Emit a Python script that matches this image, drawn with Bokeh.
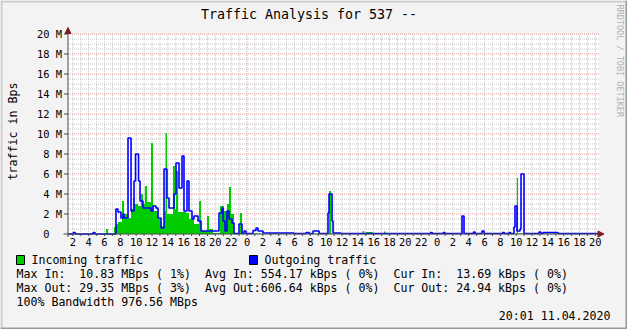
import math
from bokeh.plotting import figure
from bokeh.models import Range1d, Label, BoxAnnotation, Arrow, NormalHead
from bokeh.core.properties import value
from bokeh.embed import file_html
from bokeh.resources import INLINE

# ---------------- data ----------------
# time: hours since midnight of the first day shown; traffic in MBps
in_t = [1.39, 6.20, 6.45, 7.20, 7.45, 7.70, 8.21, 8.46, 8.97, 9.35,
        9.60, 9.73, 10.23, 10.61, 10.86, 11.10, 11.37, 11.87, 12.13, 12.76,
        13.14, 13.52, 13.70, 13.89, 14.65, 14.90, 15.03, 15.30, 16.29, 16.67,
        17.30, 17.94, 18.19, 18.95, 19.20, 19.70, 20.59, 21.09, 21.47, 21.73,
        21.98, 22.36, 23.11, 23.37, 34.36, 34.62, 38.60, 38.80, 39.00, 39.90,
        41.30, 41.50, 58.08, 58.23, 62.65, 62.90]
in_v = [0.0, 0.5, 0.0, 0.7, 1.0, 1.2, 3.3, 2.0, 1.6, 2.5,
        3.6, 3.0, 2.8, 4.0, 3.0, 4.8, 3.2, 9.1, 2.3, 1.5,
        0.8, 2.3, 10.1, 2.0, 6.8, 2.5, 6.3, 2.2, 2.1, 1.5,
        1.0, 3.3, 0.3, 1.8, 0.5, 0.1, 2.8, 2.3, 3.0, 4.7,
        2.0, 0.05, 2.1, 0.05, 4.3, 0.05, 0.3, 0.05, 0.2, 0.05,
        0.25, 0.05, 5.6, 0.05, 0.2, 0.05]

out_t = [1.39, 2.05, 2.30, 4.55, 4.80, 7.45, 7.70, 8.08, 8.34, 8.46,
         8.97, 9.35, 9.73, 9.92, 10.30, 10.49, 10.86, 11.87, 12.13, 12.50,
         12.76, 13.14, 13.52, 13.89, 14.15, 14.78, 15.03, 15.41, 15.79, 16.04,
         16.42, 16.67, 17.05, 17.30, 17.81, 18.19, 20.46, 20.85, 20.97, 21.22,
         21.47, 21.73, 22.11, 22.36, 22.99, 23.37, 23.62, 23.87, 24.76, 25.14,
         25.39, 26.02, 29.94, 31.46, 31.84, 32.34, 33.10, 34.23, 34.36, 34.74,
         34.87, 35.87, 47.20, 47.40, 48.80, 49.00, 51.16, 51.41, 52.60, 52.80,
         53.68, 53.94, 56.30, 56.50, 57.10, 57.30, 57.72, 57.85, 58.10, 58.49,
         58.61, 58.99, 60.88, 61.13, 61.39, 63.28]
out_v = [0.0, 0.15, 0.0, 0.15, 0.0, 2.5, 2.2, 1.6, 2.0, 1.6,
         9.6, 2.3, 5.3, 8.0, 5.3, 3.3, 2.6, 2.3, 2.8, 2.6,
         1.6, 0.6, 6.5, 3.6, 2.6, 4.0, 7.1, 4.6, 7.8, 2.3,
         5.3, 2.3, 1.5, 1.8, 1.3, 0.3, 2.1, 2.6, 1.3, 0.3,
         2.3, 1.5, 1.1, 0.05, 1.0, 0.05, 0.3, 0.05, 0.35, 0.6,
         0.3, 0.1, 0.05, 0.15, 0.05, 0.3, 0.05, 2.1, 4.0, 1.3,
         0.1, 0.05, 0.15, 0.05, 0.15, 0.05, 1.8, 0.05, 0.2, 0.05,
         0.3, 0.05, 0.15, 0.05, 0.15, 0.05, 0.7, 2.8, 0.3, 0.5,
         6.0, 0.05, 0.2, 0.05, 0.15, 0.05]

T_START = 1.39
T_END = 68.46

y_ticks = [0, 2, 4, 6, 8, 10, 12, 14, 16, 18, 20]
y_labels = ["0\u00a0\u00a0", "2 M", "4 M", "6 M", "8 M", "10 M", "12 M",
            "14 M", "16 M", "18 M", "20 M"]
x_ticks = [2, 4, 6, 8, 10, 12, 14, 16, 18, 20, 22, 24,
           26, 28, 30, 32, 34, 36, 38, 40, 42, 44, 46, 48,
           50, 52, 54, 56, 58, 60, 62, 64, 66, 68]
x_labels = ["2", "4", "6", "8", "10", "12", "14", "16", "18", "20", "22", "0",
            "2", "4", "6", "8", "10", "12", "14", "16", "18", "20", "22", "0",
            "2", "4", "6", "8", "10", "12", "14", "16", "18", "20"]

title_text = "Traffic Analysis for 537 --"
ylabel_text = "traffic in Bps"
legend_in = "Incoming traffic"
legend_out = "Outgoing traffic"
row_in = [(0, "Max In:"), (9, "10.83 MBps ( 1%)"), (27, "Avg In: 554.17 kBps ( 0%)"),
          (54, "Cur In:"), (63, "13.69 kBps ( 0%)")]
row_out = [(0, "Max Out: 29.35 MBps ( 3%)"), (27, "Avg Out:606.64 kBps ( 0%)"),
           (54, "Cur Out: 24.94 kBps ( 0%)")]
row_bw = [(0, "100% Bandwidth 976.56 MBps")]
stamp = "20:01 11.04.2020"
watermark = "RRDTOOL / TOBI OETIKER"

# ---------------- style ----------------
FONT = "DejaVu Sans Mono"
BG = "#F3F3F3"
GREEN = "#00CC00"
BLUE = "#0000FF"
AXIS = "#4a4a4a"
ARROW = "#7f1f1f"
GRID = "#c4c4c4"
MGRID = "#e09a9a"

W, H = 627, 329
PX_PER_H = 7.917
X0_PX = 56.5          # page x of hour 0
Y0_PX = 233.5         # page y of value 0
PX_PER_M = 10.0


def h_of(px):
    return (px - X0_PX) / PX_PER_H


def v_of(py):
    return (Y0_PX - py) / PX_PER_M


p = figure(width=W, height=H, output_backend="svg", toolbar_location=None,
           x_range=Range1d(h_of(0), h_of(W)), y_range=Range1d(v_of(H), v_of(0)),
           x_axis_location=None, y_axis_location=None,
           min_border_left=0, min_border_right=0, min_border_top=0, min_border_bottom=0,
           background_fill_color=BG, border_fill_color=BG, outline_line_color=None)
p.grid.visible = False

# white canvas
p.add_layout(BoxAnnotation(left=T_START, right=T_END, bottom=0, top=20,
                           fill_color="white", fill_alpha=1.0, line_color=None,
                           level="underlay"))

# grid
minor_h = [k * 0.5 for k in range(1, 41) if k % 4 != 0]
major_h = y_ticks[1:]
minor_v = [h for h in range(2, 69) if h % 24 != 0]
major_v = [24, 48]
p.segment(x0=T_START, x1=T_END, y0=minor_h, y1=minor_h, line_color=GRID,
          line_width=1, line_dash="1 1")
p.segment(x0=minor_v, x1=minor_v, y0=0, y1=20, line_color=GRID,
          line_width=1, line_dash="1 1")
p.segment(x0=T_START, x1=T_END, y0=major_h, y1=major_h, line_color=MGRID,
          line_width=1, line_dash="1 1")
p.segment(x0=major_v, x1=major_v, y0=0, y1=20, line_color=MGRID,
          line_width=1, line_dash="1 1")

# data
p.varea_step(x=in_t + [T_END], y1=0, y2=in_v + [in_v[-1]], step_mode="after",
             fill_color=GREEN)
p.step(x=out_t + [T_END], y=out_v + [out_v[-1]], mode="after",
       line_color=BLUE, line_width=1.6)

# axis lines, ticks and arrows
p.segment(x0=T_START, x1=T_START, y0=v_of(236.5), y1=20.3, line_color=AXIS, line_width=1)
p.segment(x0=h_of(63), x1=T_END, y0=0, y1=0, line_color=AXIS, line_width=1)
p.segment(x0=h_of(63.5), x1=T_START, y0=major_h, y1=major_h, line_color=AXIS, line_width=1)
p.segment(x0=list(range(2, 69)), x1=list(range(2, 69)), y0=v_of(235.5), y1=0,
          line_color=AXIS, line_width=1)
p.add_layout(Arrow(end=NormalHead(size=6, fill_color=ARROW, line_color=ARROW),
                   x_start=T_START, y_start=20.0, x_end=T_START, y_end=v_of(27),
                   line_color=ARROW, line_width=1))
p.add_layout(Arrow(end=NormalHead(size=6, fill_color=ARROW, line_color=ARROW),
                   x_start=T_END, y_start=0, x_end=h_of(603.5), y_end=0,
                   line_color=ARROW, line_width=1))

# tick labels
p.text(x=x_ticks, y=v_of(241.5), text=x_labels, text_align="center",
       text_baseline="middle", text_font=value(FONT), text_font_size="10.4px",
       text_color="black")
p.text(x=h_of(61.5), y=y_ticks, text=y_labels, text_align="right",
       text_baseline="middle", text_font=value(FONT), text_font_size="10.4px",
       text_color="black")


def label(text, px, py, align="left", size="11.6px", color="black", angle=0.0):
    p.add_layout(Label(x=px, y=H - py, x_units="screen", y_units="screen",
                       text=text, text_align=align, text_baseline="middle",
                       text_font=FONT, text_font_size=size, text_color=color,
                       angle=angle))


def box(px0, px1, py0, py1, color, line=None):
    p.add_layout(BoxAnnotation(left=px0, right=px1, top=H - py0, bottom=H - py1,
                               left_units="screen", right_units="screen",
                               top_units="screen", bottom_units="screen",
                               fill_color=color, fill_alpha=1.0,
                               line_color=line, line_alpha=1.0 if line else 0.0,
                               line_width=1))


label(title_text, 308.5, 14, align="center", size="13.3px")
label(ylabel_text, 12, 131, align="center", angle=math.pi / 2)
label(watermark, 619, 4, size="8.5px", color="#b0b0b0", angle=-math.pi / 2)

CW = 6.98
LX0 = 16
box(16, 24, 255, 264, GREEN, "#000000")
label(legend_in, 31, 259.5)
box(249, 257, 255, 264, BLUE, "#000000")
label(legend_out, 264, 259.5)
for col, txt in row_in:
    label(txt, LX0 + col * CW, 273.5)
for col, txt in row_out:
    label(txt, LX0 + col * CW, 287.5)
for col, txt in row_bw:
    label(txt, LX0 + col * CW, 301)
label(stamp, 610, 315, align="right")

# outer shading frame
box(0, W, 0, 2, "#CBCBCB")
box(0, 2, 0, H, "#CBCBCB")
box(0, W, H - 2, H, "#999999")
box(W - 2, W, 0, H, "#999999")

open("out.html", "w").write(file_html(p, INLINE))
